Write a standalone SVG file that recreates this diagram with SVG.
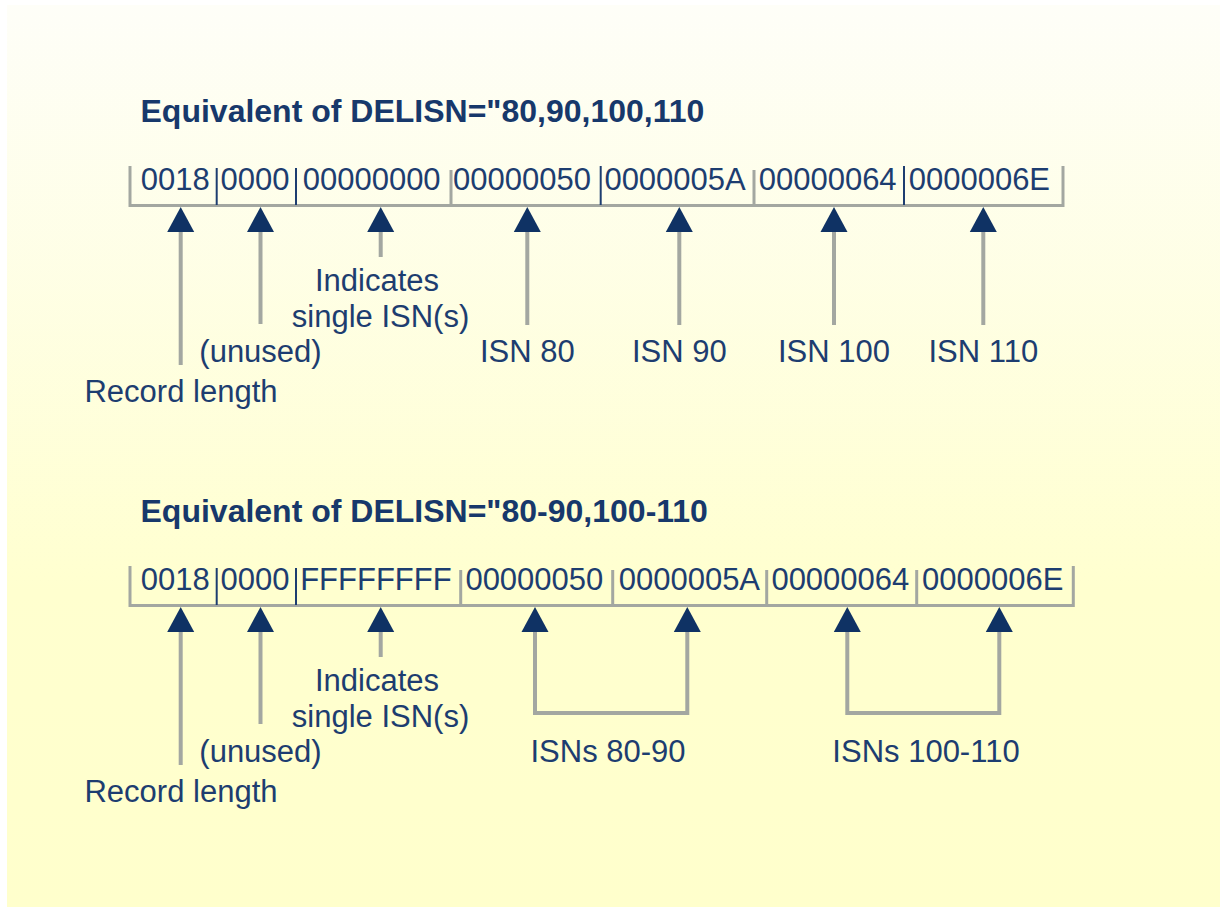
<svg xmlns="http://www.w3.org/2000/svg" width="1220" height="907" viewBox="0 0 1220 907">
  <defs>
    <linearGradient id="bg" x1="0" y1="0" x2="0" y2="1">
      <stop offset="0" stop-color="#fefef8"/>
      <stop offset="0.65" stop-color="#ffffcf"/>
      <stop offset="1" stop-color="#ffffcc"/>
    </linearGradient>
    <style>
      .title { font-family: "Liberation Sans", Arial, sans-serif; font-weight: bold; font-size: 32px; fill: #17386b; }
      .data { font-family: "Liberation Sans", Arial, sans-serif; font-size: 31px; fill: #1d3d70; }
      .lbl { font-family: "Liberation Sans", Arial, sans-serif; font-size: 31px; fill: #1d3d70; text-anchor: middle; }
      .bar { fill: none; stroke: #a3a7a1; stroke-width: 3; }
      .sepN { stroke: #1d3d70; stroke-width: 2; }
      .sepG { stroke: #a3a7a1; stroke-width: 3; }
      .shaft { fill: none; stroke: #a3a7a1; stroke-width: 4; }
      .head { fill: #0f3264; }
    </style>
  </defs>

  <rect x="0" y="0" width="1220" height="907" fill="#ffffff"/>
  <rect x="7" y="5" width="1213" height="902" fill="url(#bg)"/>

  <!-- ===== Section 1 ===== -->
  <g id="title1"><text class="title" x="140.5" y="122">Equivalent of DELISN="80,90,100,110</text></g>

  <g id="record1">
    <path class="bar" d="M130,166 V205.5 H1063 V166"/>
    <line class="sepN" x1="216.7" y1="168" x2="216.7" y2="205"/>
    <line class="sepN" x1="296" y1="168" x2="296" y2="205"/>
    <line class="sepG" x1="451" y1="170" x2="451" y2="205"/>
    <line class="sepN" x1="600.7" y1="166" x2="600.7" y2="205"/>
    <line class="sepG" x1="754" y1="170" x2="754" y2="205"/>
    <line class="sepN" x1="904" y1="166" x2="904" y2="205"/>
    <text class="data" x="140.7" y="189.5">0018</text>
    <text class="data" x="220.5" y="189.5">0000</text>
    <text class="data" x="302.7" y="189.5">00000000</text>
    <text class="data" x="453" y="189.5">00000050</text>
    <text class="data" x="604.4" y="189.5">0000005A</text>
    <text class="data" x="758.7" y="189.5">00000064</text>
    <text class="data" x="908.7" y="189.5">0000006E</text>
  </g>

  <g id="labels1">
    <text class="lbl" x="181" y="401.7">Record length</text>
    <text class="lbl" x="260.5" y="361.7">(unused)</text>
    <text class="lbl" x="377" y="290.7">Indicates</text>
    <text class="lbl" x="380.5" y="327.3">single ISN(s)</text>
    <text class="lbl" x="527.3" y="361.7">ISN 80</text>
    <text class="lbl" x="679.3" y="361.7">ISN 90</text>
    <text class="lbl" x="834" y="361.7">ISN 100</text>
    <text class="lbl" x="983.3" y="361.7">ISN 110</text>
  </g>

  <!-- ===== Section 2 ===== -->
  <g id="title2"><text class="title" x="140.5" y="522">Equivalent of DELISN="80-90,100-110</text></g>

  <g id="record2">
    <path class="bar" d="M130,566 V605.5 H1073.3 V566"/>
    <line class="sepN" x1="216.7" y1="568" x2="216.7" y2="605"/>
    <line class="sepN" x1="296" y1="568" x2="296" y2="605"/>
    <line class="sepG" x1="460.7" y1="570" x2="460.7" y2="605"/>
    <line class="sepG" x1="612.7" y1="570" x2="612.7" y2="605"/>
    <line class="sepG" x1="766.7" y1="570" x2="766.7" y2="605"/>
    <line class="sepG" x1="916.7" y1="570" x2="916.7" y2="605"/>
    <text class="data" x="140.7" y="589.5">0018</text>
    <text class="data" x="220.5" y="589.5">0000</text>
    <text class="data" x="300.2" y="589.5">FFFFFFFF</text>
    <text class="data" x="465.4" y="589.5">00000050</text>
    <text class="data" x="618.7" y="589.5">0000005A</text>
    <text class="data" x="771.4" y="589.5">00000064</text>
    <text class="data" x="922" y="589.5">0000006E</text>
  </g>

  <g id="labels2">
    <text class="lbl" x="181" y="801.7">Record length</text>
    <text class="lbl" x="260.5" y="761.7">(unused)</text>
    <text class="lbl" x="377" y="690.7">Indicates</text>
    <text class="lbl" x="380.5" y="727.3">single ISN(s)</text>
    <text class="lbl" x="608" y="761.7">ISNs 80-90</text>
    <text class="lbl" x="926" y="761.7">ISNs 100-110</text>
  </g>

  <!-- ===== Connectors ===== -->
  <g id="connectors">
    <!-- section 1 shafts -->
    <line class="shaft" x1="180.7" y1="230" x2="180.7" y2="365"/>
    <line class="shaft" x1="260.5" y1="230" x2="260.5" y2="324"/>
    <line class="shaft" x1="380.7" y1="230" x2="380.7" y2="257"/>
    <line class="shaft" x1="527.3" y1="230" x2="527.3" y2="325"/>
    <line class="shaft" x1="679.3" y1="230" x2="679.3" y2="325"/>
    <line class="shaft" x1="834" y1="230" x2="834" y2="325"/>
    <line class="shaft" x1="983.3" y1="230" x2="983.3" y2="325"/>
    <!-- section 1 heads -->
    <polygon class="head" points="180.7,207 167.2,232 194.2,232"/>
    <polygon class="head" points="260.5,207 247,232 274,232"/>
    <polygon class="head" points="380.7,207 367.2,232 394.2,232"/>
    <polygon class="head" points="527.3,207 513.8,232 540.8,232"/>
    <polygon class="head" points="679.3,207 665.8,232 692.8,232"/>
    <polygon class="head" points="834,207 820.5,232 847.5,232"/>
    <polygon class="head" points="983.3,207 969.8,232 996.8,232"/>

    <!-- section 2 shafts -->
    <line class="shaft" x1="180.7" y1="630" x2="180.7" y2="765"/>
    <line class="shaft" x1="260.5" y1="630" x2="260.5" y2="724"/>
    <line class="shaft" x1="380.7" y1="630" x2="380.7" y2="657"/>
    <path class="shaft" d="M535,630 V713 H687.3 V630"/>
    <path class="shaft" d="M847.3,630 V713 H999.3 V630"/>
    <!-- section 2 heads -->
    <polygon class="head" points="180.7,607 167.2,632 194.2,632"/>
    <polygon class="head" points="260.5,607 247,632 274,632"/>
    <polygon class="head" points="380.7,607 367.2,632 394.2,632"/>
    <polygon class="head" points="535,607 521.5,632 548.5,632"/>
    <polygon class="head" points="687.3,607 673.8,632 700.8,632"/>
    <polygon class="head" points="847.3,607 833.8,632 860.8,632"/>
    <polygon class="head" points="999.3,607 985.8,632 1012.8,632"/>
  </g>
</svg>
